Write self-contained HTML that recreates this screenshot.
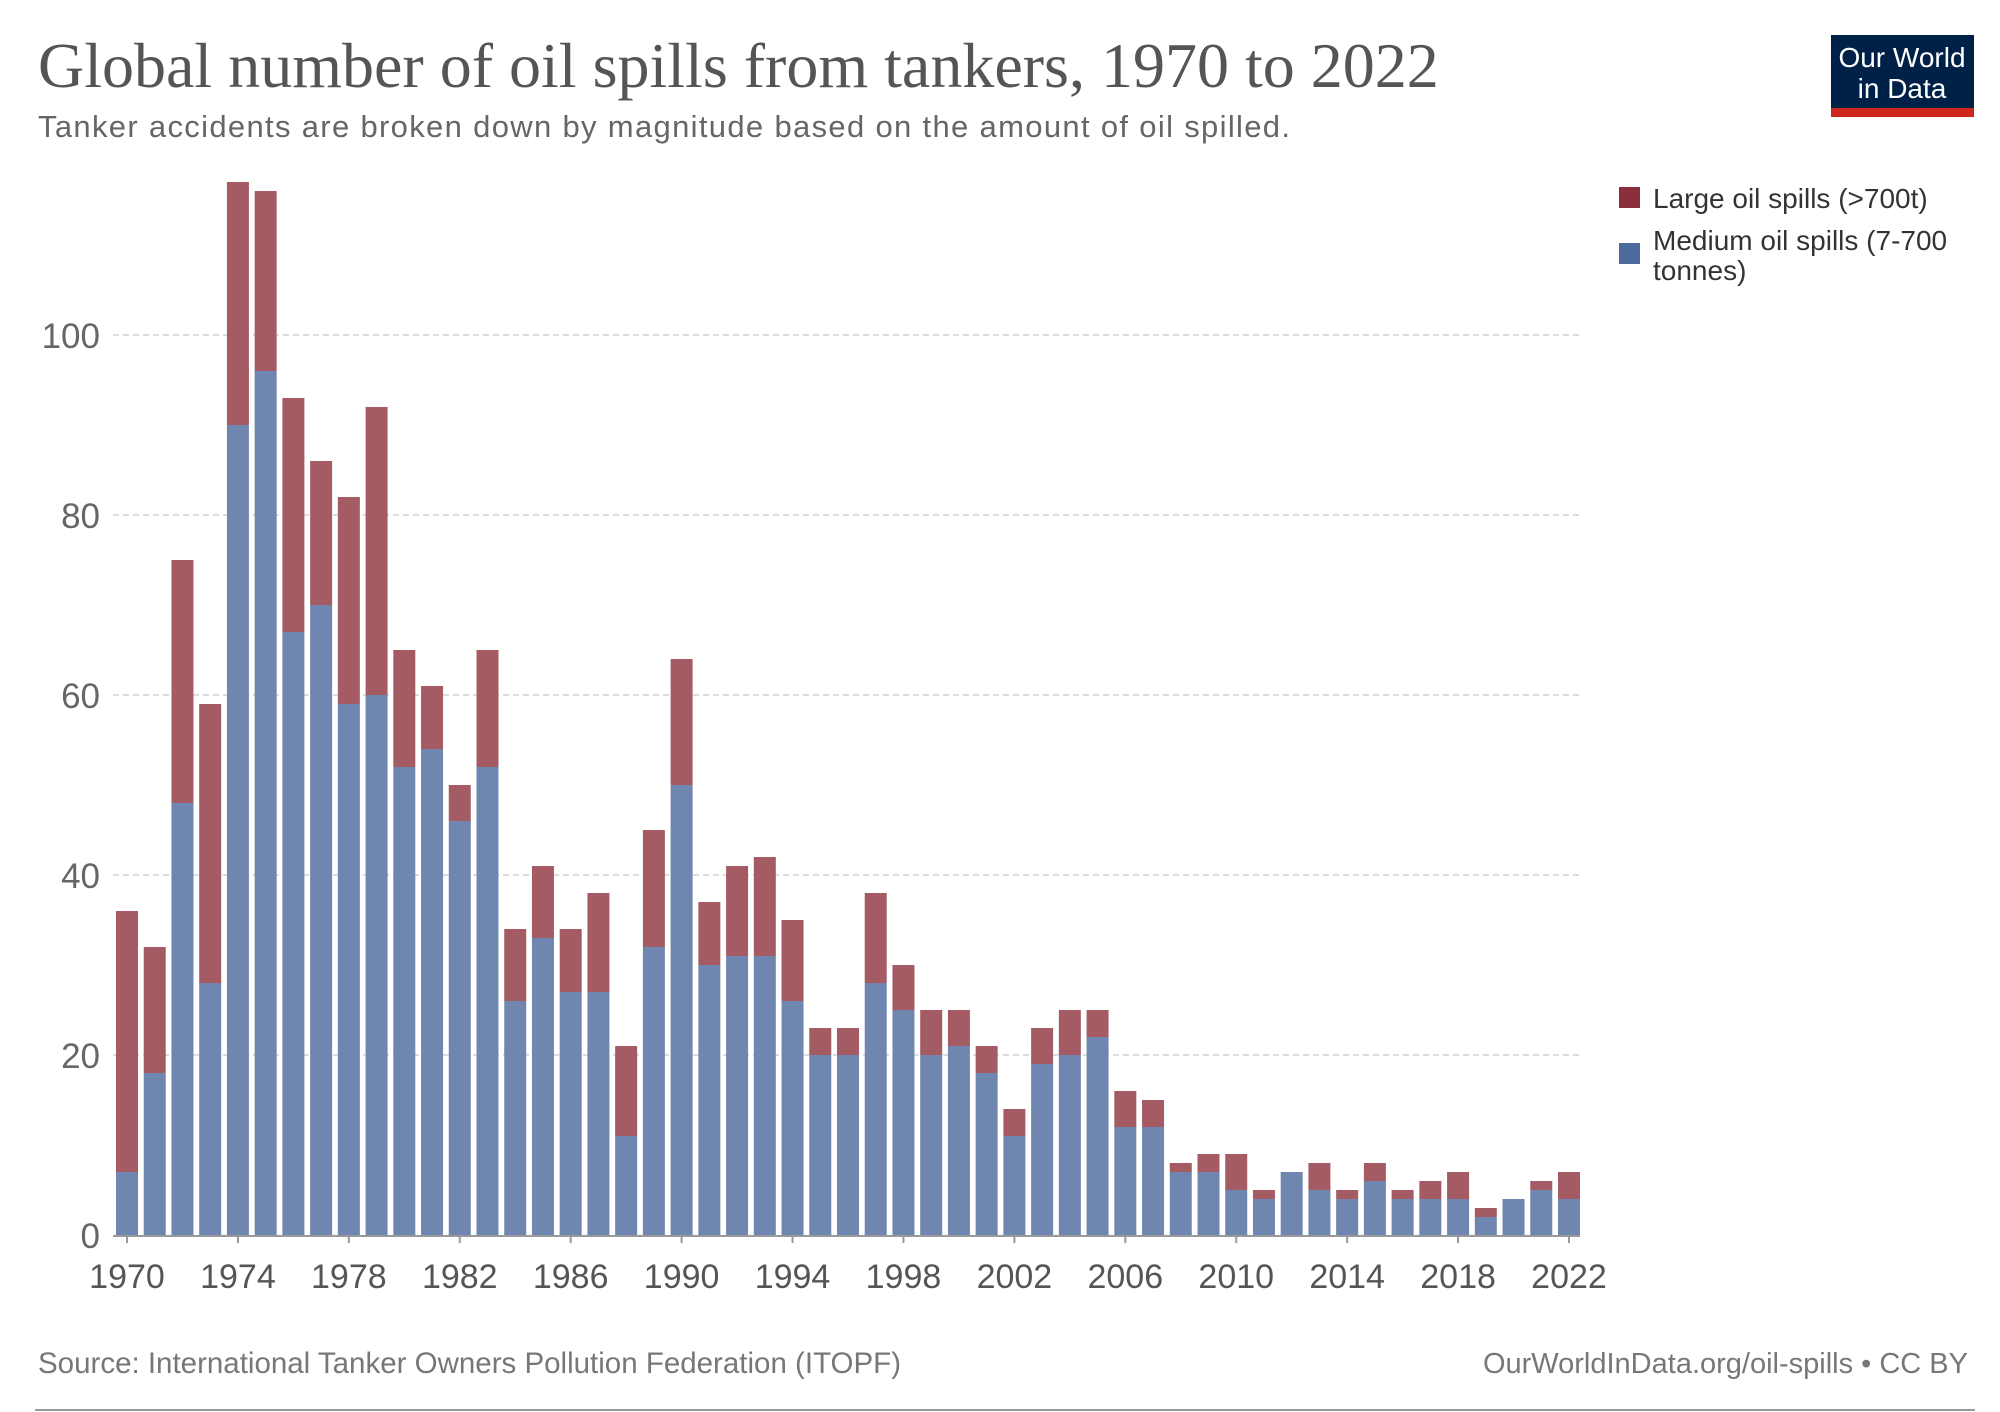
<!DOCTYPE html>
<html><head><meta charset="utf-8"><style>
body{margin:0;background:#fff;width:2000px;height:1412px;overflow:hidden;font-family:"Liberation Sans",sans-serif}
svg{display:block}
</style></head><body>
<svg id="c" width="2000" height="1412" xmlns="http://www.w3.org/2000/svg">
<text x="38" y="87" font-family="Liberation Serif,serif" font-size="64" fill="#555">Global number of oil spills from tankers, 1970 to 2022</text>
<text x="38" y="137" font-size="31" fill="#666" textLength="1252">Tanker accidents are broken down by magnitude based on the amount of oil spilled.</text>
<g>
<rect x="1831" y="35" width="143" height="82" fill="#002147"/>
<rect x="1831" y="108" width="143" height="9" fill="#ce261e"/>
<text x="1902" y="67" font-size="28" fill="#fff" text-anchor="middle">Our World</text>
<text x="1902" y="98" font-size="28" fill="#fff" text-anchor="middle">in Data</text>
</g>
<g>
<rect x="1619" y="187" width="21" height="21" fill="#8b2e3a"/>
<text x="1653" y="208" font-size="28" fill="#333">Large oil spills (&gt;700t)</text>
<rect x="1619" y="243" width="21" height="21" fill="#4c6a9c"/>
<text x="1653" y="250" font-size="28" fill="#333">Medium oil spills (7-700</text>
<text x="1653" y="280" font-size="28" fill="#333">tonnes)</text>
</g>
<g id="grid"></g><g id="bars"></g><g id="axis"></g>
<text x="38" y="1373" font-size="29.5" fill="#777">Source: International Tanker Owners Pollution Federation (ITOPF)</text>
<text x="1968" y="1373" font-size="29" fill="#777" text-anchor="end">OurWorldInData.org/oil-spills • CC BY</text>
<line x1="35" y1="1410" x2="1975" y2="1410" stroke="#999" stroke-width="2"/>
</svg>
<script>
const years=[];for(let y=1970;y<=2022;y++)years.push(y);
const totals=[36,32,75,59,117,116,93,86,82,92,65,61,50,65,34,41,34,38,21,45,64,37,41,42,35,23,23,38,30,25,25,21,14,23,25,25,16,15,8,9,9,5,7,8,5,8,5,6,7,3,4,6,7];
const medium=[7,18,48,28,90,96,67,70,59,60,52,54,46,52,26,33,27,27,11,32,50,30,31,31,26,20,20,28,25,20,21,18,11,19,20,22,12,12,7,7,5,4,7,5,4,6,4,4,4,2,4,5,4];
const yTicks=[0,20,40,60,80,100];
const xTickYears=[1970,1974,1978,1982,1986,1990,1994,1998,2002,2006,2010,2014,2018,2022];
const NS="http://www.w3.org/2000/svg";
const x0=127,x1=1569,y0=1235,ppu=9,bw=22;
const xs=y=>x0+(y-1970)*(x1-x0)/52;
const ys=v=>y0-v*ppu;
function mk(t,a,p){const e=document.createElementNS(NS,t);for(const k in a)e.setAttribute(k,a[k]);p.appendChild(e);return e;}
const g=document.getElementById('grid'),b=document.getElementById('bars'),ax=document.getElementById('axis');
yTicks.forEach(v=>{
 if(v>0){const l=mk('line',{x1:113,x2:1580,y1:ys(v),y2:ys(v),stroke:'#ddd','stroke-width':2,'stroke-dasharray':'6,4'},g);
 
 }
 const t=mk('text',{x:100,y:ys(v)+13,'font-size':35,fill:'#666','text-anchor':'end'},g);t.textContent=v;
 
 
});
years.forEach((yr,i)=>{
 const cx=xs(yr);
 const r1=mk('rect',{x:cx-bw/2,y:ys(medium[i]),width:bw,height:medium[i]*ppu,fill:'#6f87b0'},b);
 
 
 const l=totals[i]-medium[i];
 if(l>0){const r2=mk('rect',{x:cx-bw/2,y:ys(totals[i]),width:bw,height:l*ppu,fill:'#a45b64'},b);
 
 }
});
const al=mk('line',{x1:113,x2:1580,y1:y0+1,y2:y0+1,stroke:'#999','stroke-width':2},ax);


xTickYears.forEach(yr=>{
 const cx=xs(yr);
 mk('line',{x1:cx,x2:cx,y1:y0+1,y2:y0+8,stroke:'#999','stroke-width':2},ax);
 const t=mk('text',{x:cx,y:1288,'font-size':34,fill:'#555','text-anchor':'middle'},ax);t.textContent=yr;
 
 
});
</script>
</body></html>
